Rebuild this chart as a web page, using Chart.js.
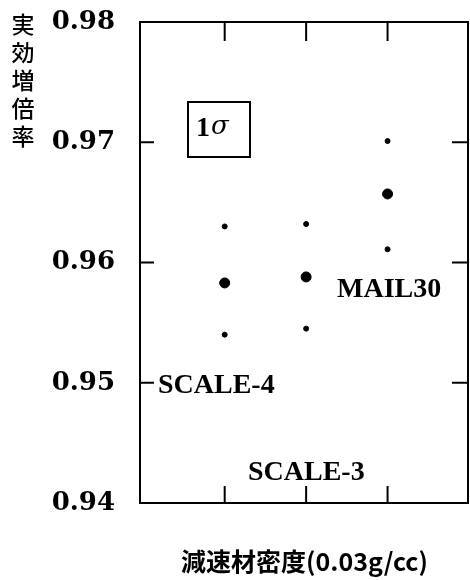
<!DOCTYPE html>
<html>
<head>
<meta charset="utf-8">
<script src="https://cdn.jsdelivr.net/npm/chart.js@4.4.1/dist/chart.umd.min.js"></script>
<style>
  html, body { margin: 0; padding: 0; background: #fff; }
  canvas { display: block; }
</style>
</head>
<body>
<canvas id="myChart" width="470" height="580"></canvas>
<script>
// moderator density cases (x positions 1..3) and keff with +/- 1 sigma
const densities = [1, 2, 3]
const keffCenter = [0.9583, 0.9588, 0.9657]
const keffUpper = [0.9630, 0.9632, 0.9701]
const keffLower = [0.9540, 0.9545, 0.9611]
const yTicks = [0.94, 0.95, 0.96, 0.97, 0.98]
const yTitle = "実効増倍率"
const xTitle = "減速材密度(0.03g/cc)"

const centerPts = densities.map((d, i) => ({ x: d, y: keffCenter[i] }))
const sigmaPts = []
densities.forEach((d, i) => {
    sigmaPts.push({ x: d, y: keffUpper[i] })
    sigmaPts.push({ x: d, y: keffLower[i] })
})

const decor = {
    id: "decor",
    afterDraw(chart) {
        const ctx = chart.ctx
        const a = chart.chartArea
        const xs = chart.scales.x
        const ys = chart.scales.y
        ctx.save()
        ctx.strokeStyle = "#000"
        ctx.lineWidth = 2
        ctx.strokeRect(a.left, a.top, a.right - a.left - 1, a.bottom - a.top)
        // inward tick marks
        ctx.beginPath()
        yTicks.slice(1, 4).forEach(v => {
            const py = ys.getPixelForValue(v)
            ctx.moveTo(a.left, py); ctx.lineTo(a.left + 14, py)
            ctx.moveTo(a.right, py); ctx.lineTo(a.right - 17, py)
        })
        densities.forEach(d => {
            const px = xs.getPixelForValue(d)
            ctx.moveTo(px, a.bottom); ctx.lineTo(px, a.bottom - 17)
            ctx.moveTo(px, a.top); ctx.lineTo(px, a.top + 19)
        })
        ctx.stroke()

        // 1 sigma box
        ctx.strokeRect(188, 102, 62, 55)
        ctx.fillStyle = "#000"
        ctx.textBaseline = "middle"
        ctx.textAlign = "left"
        ctx.font = "bold 28px 'Liberation Serif'"
        ctx.fillText("1", 196, 129)
        ctx.font = "italic 26px 'DejaVu Serif'"
        ctx.fillText("σ", 211, 127)

        // series labels
        ctx.font = "bold 28px 'Liberation Serif'"
        ctx.fillText("SCALE-4", 158, 386)
        ctx.fillText("MAIL30", 337, 290)
        ctx.fillText("SCALE-3", 248, 473)

        // vertical y title
        ctx.font = "500 23px 'Noto Sans CJK JP'"
        ctx.textAlign = "center"
        Array.from(yTitle).forEach((ch, i) => {
            ctx.fillText(ch, 23, 24 + i * 28)
        })
        ctx.restore()
    }
}

let keffChart = new Chart("myChart", {
    type: "scatter",
    data: {
        datasets: [{
            label: "keff",
            data: centerPts,
            backgroundColor: "#000",
            borderColor: "#000",
            pointRadius: 5,
            pointHoverRadius: 5
        }, {
            label: "1 sigma",
            data: sigmaPts,
            backgroundColor: "#000",
            borderColor: "#000",
            pointRadius: 2.5,
            pointHoverRadius: 2.5
        }]
    },
    options: {
        responsive: false,
        animation: false,
        events: [],
        layout: { autoPadding: false, padding: { top: 22, right: 1, bottom: 0, left: 0 } },
        plugins: {
            legend: { display: false },
            tooltip: { enabled: false }
        },
        scales: {
            x: {
                type: "linear",
                min: -0.04,
                max: 4,
                grid: { display: false, drawTicks: false },
                border: { display: false },
                ticks: { display: false },
                title: {
                    display: true,
                    text: xTitle,
                    color: "#000",
                    font: { family: "'Noto Sans CJK JP'", size: 25, weight: "bold" },
                    padding: { top: 0, bottom: 4 }
                },
                afterFit: (scale) => { scale.height = 77 }
            },
            y: {
                min: 0.94,
                max: 0.98,
                grid: { display: false, drawTicks: false },
                border: { display: false },
                afterBuildTicks: (scale) => { scale.ticks = yTicks.map(v => ({ value: v })) },
                ticks: {
                    color: "#000",
                    padding: 25,
                    font: { family: "'DejaVu Serif'", size: 26, weight: "bold" },
                    callback: (v) => Number(v).toFixed(2)
                },
                afterFit: (scale) => {
                    scale.width = 140
                    scale.paddingTop = 0
                    scale.paddingBottom = 0
                }
            }
        }
    },
    plugins: [decor]
})
</script>
</body>
</html>
